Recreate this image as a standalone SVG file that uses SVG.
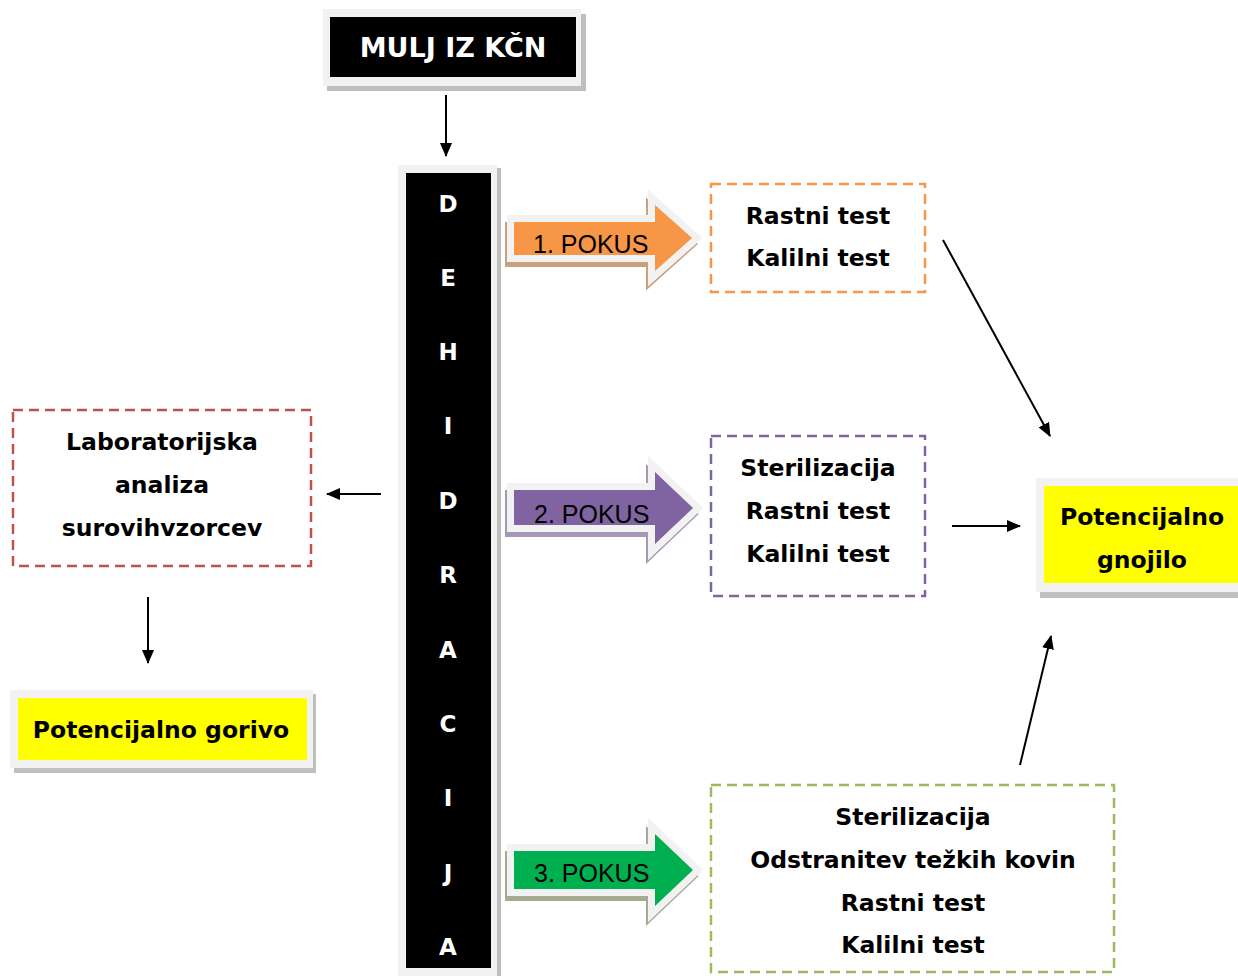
<svg xmlns="http://www.w3.org/2000/svg" width="1238" height="976" viewBox="0 0 1238 976">
<style>
.frame{fill:#f2f2f2}
.shadow{fill:#bfbfbf}
.t{font-family:"DejaVu Sans","Liberation Sans",sans-serif;font-weight:bold;font-size:23.5px;fill:#000;text-anchor:middle}
.lt{font-family:"DejaVu Sans","Liberation Sans",sans-serif;font-weight:bold;font-size:23px;fill:#fff;text-anchor:middle}
.big{font-size:27px}
.pk{font-family:"Liberation Sans",Arial,sans-serif;font-size:25px;fill:#000}
.dash{fill:#fff;stroke-width:2.5;stroke-dasharray:10,6}
.conn{stroke:#000;stroke-width:2;fill:none;marker-end:url(#ah)}
</style>
<defs>
<marker id="ah" markerWidth="14" markerHeight="12" refX="13" refY="6" orient="auto" markerUnits="userSpaceOnUse" viewBox="0 0 14 12">
<path d="M0,0 L14,6 L0,12 Z" fill="#000"/>
</marker>
</defs>
<rect width="1238" height="976" fill="#fff"/>

<g id="mulj">
<rect class="shadow" x="327" y="14" width="259" height="77"/>
<rect class="frame" x="323" y="9" width="258" height="77"/>
<rect x="330" y="17" width="246" height="60" fill="#000"/>
<text class="lt big" x="453" y="57">MULJ IZ KČN</text>
</g>

<g id="dehidracija">
<rect class="shadow" x="401" y="168" width="100" height="808"/>
<rect class="frame" x="398" y="165" width="99" height="811"/>
<rect x="406" y="173" width="85" height="795" fill="#000"/>
<g class="lt">
<text x="448" y="212">D</text>
<text x="448" y="286">E</text>
<text x="448" y="360">H</text>
<text x="448" y="434">I</text>
<text x="448" y="509">D</text>
<text x="448" y="583">R</text>
<text x="448" y="658">A</text>
<text x="448" y="732">C</text>
<text x="448" y="806">I</text>
<text x="448" y="881">J</text>
<text x="448" y="955">A</text>
</g>
</g>

<g id="pokus1">
<path d="M514,222 H655 V205 L692,238 L655,271 V255 H514 Z" fill="#c9a17f" stroke="#c9a17f" stroke-width="12" stroke-linejoin="miter" transform="translate(-3,6)"/>
<path d="M514,222 H655 V205 L692,238 L655,271 V255 H514 Z" fill="#f2f2f2" stroke="#f2f2f2" stroke-width="14" stroke-linejoin="miter"/>
<path d="M514,222 H655 V205 L692,238 L655,271 V255 H514 Z" fill="#F79646"/>
<text class="pk" x="533" y="253">1. POKUS</text>
</g>

<g id="pokus2">
<path d="M514,490 H655 V472 L693,508 L655,544 V525 H514 Z" fill="#a597b5" stroke="#a597b5" stroke-width="12" stroke-linejoin="miter" transform="translate(-3,6)"/>
<path d="M514,490 H655 V472 L693,508 L655,544 V525 H514 Z" fill="#f2f2f2" stroke="#f2f2f2" stroke-width="14" stroke-linejoin="miter"/>
<path d="M514,490 H655 V472 L693,508 L655,544 V525 H514 Z" fill="#8064A2"/>
<text class="pk" x="534" y="523">2. POKUS</text>
</g>

<g id="pokus3">
<path d="M514,851 H655 V834 L693,870 L655,906 V889 H514 Z" fill="#a6ab8f" stroke="#a6ab8f" stroke-width="12" stroke-linejoin="miter" transform="translate(-3,6)"/>
<path d="M514,851 H655 V834 L693,870 L655,906 V889 H514 Z" fill="#f2f2f2" stroke="#f2f2f2" stroke-width="14" stroke-linejoin="miter"/>
<path d="M514,851 H655 V834 L693,870 L655,906 V889 H514 Z" fill="#00B050"/>
<text class="pk" x="534" y="882">3. POKUS</text>
</g>

<g id="box1">
<rect class="dash" x="711" y="184" width="214" height="108" stroke="#F79646"/>
<text class="t" x="818" y="224">Rastni test</text>
<text class="t" x="818" y="266">Kalilni test</text>
</g>

<g id="box2">
<rect class="dash" x="711" y="436" width="214" height="160" stroke="#8064A2"/>
<text class="t" x="818" y="476">Sterilizacija</text>
<text class="t" x="818" y="519">Rastni test</text>
<text class="t" x="818" y="562">Kalilni test</text>
</g>

<g id="box3">
<rect class="dash" x="711" y="785" width="403" height="187" stroke="#9BBB59"/>
<text class="t" x="913" y="825">Sterilizacija</text>
<text class="t" x="913" y="868">Odstranitev težkih kovin</text>
<text class="t" x="913" y="911">Rastni test</text>
<text class="t" x="913" y="953">Kalilni test</text>
</g>

<g id="laboratorij">
<rect class="dash" x="13" y="410" width="298" height="156" stroke="#C0504D"/>
<text class="t" x="162" y="450">Laboratorijska</text>
<text class="t" x="162" y="493">analiza</text>
<text class="t" x="162" y="536">surovihvzorcev</text>
</g>

<g id="gnojilo">
<rect class="shadow" x="1040" y="482" width="198" height="116"/>
<rect class="frame" x="1036" y="478" width="202" height="114"/>
<rect x="1044" y="486" width="194" height="97" fill="#ffff00"/>
<text class="t" x="1142" y="525">Potencijalno</text>
<text class="t" x="1142" y="568">gnojilo</text>
</g>

<g id="gorivo">
<rect class="shadow" x="14" y="694" width="302" height="79"/>
<rect class="frame" x="10" y="690" width="303" height="78"/>
<rect x="18" y="698" width="289" height="62" fill="#ffff00"/>
<text class="t" x="161" y="738">Potencijalno gorivo</text>
</g>

<g id="connectors">
<line class="conn" x1="446" y1="95" x2="446" y2="156"/>
<line class="conn" x1="381" y1="494" x2="327" y2="494"/>
<line class="conn" x1="148" y1="597" x2="148" y2="663"/>
<line class="conn" x1="943" y1="240" x2="1050" y2="436"/>
<line class="conn" x1="952" y1="526" x2="1020" y2="526"/>
<line class="conn" x1="1020" y1="765" x2="1051" y2="636"/>
</g>
</svg>
